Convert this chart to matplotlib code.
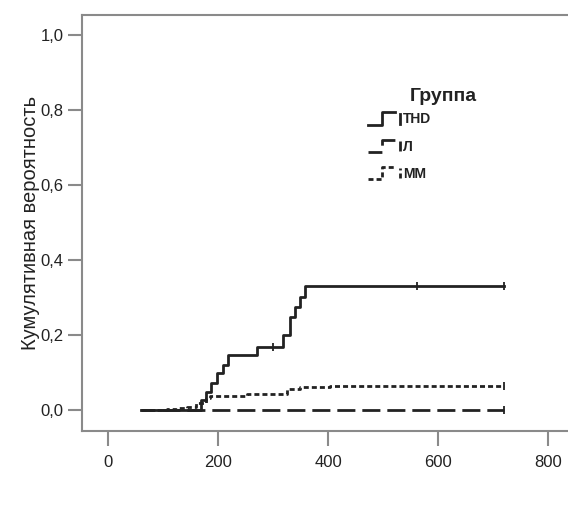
import numpy as np
import matplotlib
matplotlib.use("Agg")
import matplotlib.pyplot as plt
from matplotlib.legend_handler import HandlerBase
from matplotlib.lines import Line2D

plt.rcParams['font.family'] = ['Liberation Sans', 'DejaVu Sans']

## Data (days, cumulative probability)
groups = ['THD', 'Л', 'ММ']

thd_days = [60, 170, 179, 188, 198, 209, 219, 270, 319, 331, 340, 349, 358, 720]
thd_prob = [0.0, 0.027, 0.049, 0.071, 0.098, 0.120, 0.147, 0.169, 0.200, 0.249, 0.275, 0.302, 0.330, 0.330]
thd_cens = [300, 561, 720]

l_days = [60, 720]
l_prob = [0.0, 0.0]
l_cens = [720]

mm_days = [60, 107, 125, 143, 161, 179, 185, 252, 325, 349, 404, 720]
mm_prob = [0.0, 0.002, 0.004, 0.009, 0.018, 0.031, 0.037, 0.043, 0.055, 0.060, 0.065, 0.065]
mm_cens = [720]

y_ticks = [0.0, 0.2, 0.4, 0.6, 0.8, 1.0]
x_ticks = [0, 200, 400, 600, 800]


def step_at(days, prob, t):
    i = np.searchsorted(days, t, side='right') - 1
    return prob[max(i, 0)]


class StepHandler(HandlerBase):
    # legend glyph: small step up followed by a censor tick
    def create_artists(self, legend, orig, xd, yd, w, h, fontsize, trans):
        x0, y0 = -xd, -yd
        step = Line2D([x0, x0 + 0.45 * w, x0 + 0.45 * w, x0 + 0.85 * w],
                      [y0, y0, y0 + h, y0 + h])
        tick = Line2D([x0 + w, x0 + w], [y0 + 0.1 * h, y0 + 0.9 * h])
        for a in (step, tick):
            a.update_from(orig)
            a.set_drawstyle('default')
            a.set_transform(trans)
        return [step, tick]


fig = plt.figure(figsize=(5.68, 5.11), dpi=100)
ax = fig.add_axes([82 / 568, 80 / 511, 518 / 568, 416 / 511])

grey = '#8a8a8a'
ink = '#222222'

styles = {
    'THD': dict(linestyle='-', linewidth=2.0),
    'Л': dict(linestyle=(1.5, (6.5, 2.5)), linewidth=2.0),
    'ММ': dict(linestyle=(0, (1.8, 1.1)), linewidth=2.0),
}

series = [(thd_days, thd_prob, thd_cens), (l_days, l_prob, l_cens), (mm_days, mm_prob, mm_cens)]
handles = []
for name, (d, p, c) in zip(groups, series):
    ln, = ax.plot(d, p, drawstyle='steps-post', color=ink, **styles[name])
    handles.append(ln)
    ax.plot(c, [step_at(d, p, t) for t in c], linestyle='none', marker='|',
            markersize=6, markeredgewidth=1.3, color=ink)

ax.set_xlim(-47, 894)
ax.set_ylim(-0.056, 1.053)
ax.set_xticks(x_ticks)
ax.set_xticklabels([str(v) for v in x_ticks])
ax.set_yticks(y_ticks)
ax.set_yticklabels([f"{v:.1f}".replace('.', ',') for v in y_ticks])

for s in ax.spines.values():
    s.set_color(grey)
    s.set_linewidth(1.5)
ax.tick_params(axis='both', colors=grey, width=1.5, labelcolor=ink, labelsize=12)
ax.tick_params(axis='y', length=10, pad=3.5)
ax.tick_params(axis='x', length=10.5, pad=7)

ax.set_ylabel('Кумулятивная вероятность', fontsize=14.5, color=ink, labelpad=0)

leg = ax.legend(handles, groups, handler_map={Line2D: StepHandler()},
                loc='upper left', bbox_to_anchor=(0.552, 0.766), frameon=False,
                borderpad=0, borderaxespad=0, handlelength=2.3, handleheight=1.0,
                handletextpad=0.25, labelspacing=0.95,
                prop={'size': 10, 'weight': 'bold'})
for t in leg.get_texts():
    t.set_color(ink)
ax.text(0.633, 0.803, 'Группа', transform=ax.transAxes, fontsize=14,
        fontweight='bold', color=ink, va='center', ha='left')

fig.savefig('out.png', dpi=100)
